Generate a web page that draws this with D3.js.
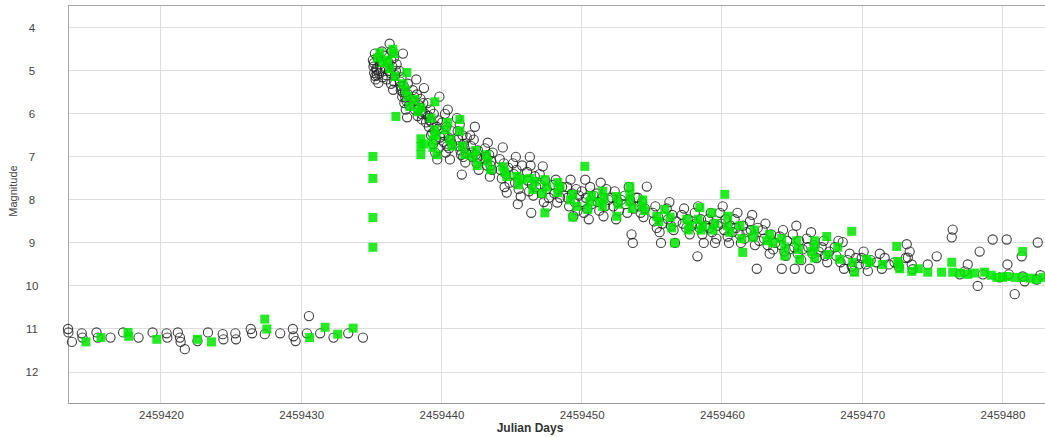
<!DOCTYPE html>
<html>
<head>
<meta charset="utf-8">
<script src="https://cdn.jsdelivr.net/npm/d3@7"></script>
<style>
  html, body { margin: 0; padding: 0; background: #fff; }
  svg { display: block; font-family: "Liberation Sans", Arial, sans-serif; }
</style>
</head>
<body>
<svg id="chart" width="1045" height="437"></svg>
<script>
// ---- DATA (days are JD - 2459400) ----
const JD0 = 2459400;
const xTicks = [2459420, 2459430, 2459440, 2459450, 2459460, 2459470, 2459480];
const yTicks = [4, 5, 6, 7, 8, 9, 10, 11, 12];

// Visual estimates (open circles): [day, magnitude]
const visualObs = [
  [13.37,11.0],[13.4,11.08],[13.65,11.3],[14.35,11.1],[14.4,11.2],[15.4,11.08],[15.5,11.2],[16.4,11.2],
  [17.3,11.08],[18.4,11.2],[19.4,11.08],[20.4,11.1],[20.45,11.2],[21.2,11.08],[21.35,11.2],[21.4,11.3],
  [21.7,11.47],[22.6,11.28],[23.35,11.08],[24.4,11.12],[24.45,11.24],[25.3,11.1],[25.35,11.24],[26.4,11.0],
  [26.5,11.1],[27.4,11.12],[28.5,11.1],[29.4,11.0],[29.45,11.17],[29.6,11.28],[30.4,11.1],[30.55,10.7],
  [31.35,11.1],[32.3,11.2],[33.35,11.1],[34.4,11.2],
  [35.11,4.75],[35.15,4.9],[35.2,5.05],[35.25,4.6],[35.3,5.2],[35.35,4.95],[35.4,5.1],[35.45,4.7],[35.5,5.28],[35.6,4.85],[35.65,5.0],[35.75,4.55],[35.8,5.15],
  [35.18,4.82],[35.28,5.12],[35.38,4.98],[35.55,5.06],[35.7,4.78],
  [35.95,4.65],[36.0,4.95],[36.1,5.2],[36.2,4.8],[36.3,4.37],[36.35,5.05],[36.4,5.3],[36.45,4.55],[36.5,4.9],[36.55,5.44],[36.6,4.7],[36.7,5.1],[36.8,4.85],[37.25,4.6],
  [36.05,5.1],[36.25,5.0],[36.42,4.75],[36.62,5.25],[36.75,5.0],
  [37.0,5.0],[37.05,5.25],[37.1,5.45],[37.15,5.15],[37.2,5.6],[37.3,5.35],[37.35,5.75],[37.4,5.5],[37.45,5.9],[37.5,5.7],[37.55,6.08],[37.6,5.3],[37.7,5.8],
  [37.08,5.35],[37.25,5.5],[37.42,5.62],[37.62,5.55],
  [37.95,5.45],[38.0,5.7],[38.1,5.9],[38.2,5.2],[38.25,5.55],[38.3,6.05],[38.4,5.8],[38.5,5.65],[38.6,6.13],[38.65,5.95],[38.75,5.4],[38.85,6.0],
  [38.05,5.6],[38.35,5.9],[38.55,6.0],[38.7,5.75],[38.9,6.2],
  [39.0,5.75],[39.05,6.05],[39.1,6.3],[39.2,5.9],[39.25,6.5],[39.3,6.2],[39.4,6.7],[39.45,6.0],[39.5,6.4],[39.55,6.9],[39.6,6.6],[39.7,7.06],[39.75,6.15],[39.8,6.8],[39.85,5.6],
  [39.15,6.15],[39.35,6.45],[39.65,6.3],[39.9,6.55],
  [40.05,6.2],[40.1,6.45],[40.15,6.65],[40.25,6.0],[40.3,6.9],[40.35,6.3],[40.45,5.9],[40.5,6.55],[40.55,6.8],[40.6,7.06],[40.7,6.4],[40.75,6.7],
  [40.2,6.5],[40.4,6.75],[40.65,6.6],
  [41.1,6.1],[41.15,6.4],[41.2,6.6],[41.3,6.25],[41.35,6.85],[41.45,7.41],[41.5,6.5],[41.55,7.0],[41.6,6.7],[41.7,7.13],[41.75,6.9],[41.8,6.55],
  [41.25,6.75],[41.4,6.95],[41.65,6.8],
  [42.05,6.5],[42.1,6.75],[42.2,7.0],[42.3,6.6],[42.38,6.3],[42.45,6.95],[42.5,7.15],[42.6,6.85],[42.65,7.3],[42.75,7.05],
  [42.15,6.9],[42.55,7.0],
  [43.1,6.8],[43.15,7.05],[43.25,7.2],[43.3,6.67],[43.4,6.95],[43.45,7.46],[43.55,7.1],[43.6,7.3],[43.65,6.9],
  [43.2,7.0],[43.5,7.2],
  [44.15,7.05],[44.2,7.3],[44.3,7.5],[44.37,6.78],[44.45,7.15],[44.5,7.7],[44.6,7.4],[44.65,7.83],[44.75,7.25],[44.85,7.6],
  [45.1,7.15],[45.15,7.4],[45.25,7.6],[45.3,7.0],[45.35,7.3],[45.44,8.1],[45.5,7.75],[45.55,7.5],[45.65,7.92],[45.75,7.2],
  [46.1,7.35],[46.15,7.55],[46.25,7.8],[46.3,7.0],[46.35,7.2],[46.4,8.3],[46.45,7.65],[46.55,7.9],[46.65,7.45],[46.75,7.7],
  [47.0,7.4],[47.05,7.65],[47.15,7.85],[47.22,7.22],[47.3,8.05],[47.4,7.55],[47.5,7.75],[47.55,8.15],[47.65,7.95],
  [47.95,7.65],[48.05,7.85],[48.15,7.53],[48.25,8.06],[48.35,7.75],[48.45,7.95],[48.6,7.7],
  [48.95,7.7],[49.0,7.95],[49.1,8.15],[49.2,7.53],[49.3,7.85],[49.4,8.38],[49.5,8.05],[49.6,7.75],[49.7,8.25],[49.8,7.9],
  [50.0,7.8],[50.05,8.05],[50.15,8.3],[50.25,7.53],[50.3,7.95],[50.4,8.2],[50.5,8.45],[50.6,7.7],[50.7,8.1],[50.85,7.9],
  [51.07,7.85],[51.15,8.05],[51.25,8.25],[51.35,7.6],[51.45,7.95],[51.55,8.38],[51.65,8.15],[51.75,7.75],[51.9,8.0],
  [52.15,7.95],[52.25,8.15],[52.35,7.8],[52.45,8.45],[52.55,8.05],[52.65,8.25],[52.8,8.0],
  [53.07,7.9],[53.15,8.1],[53.25,8.3],[53.35,7.7],[53.45,8.0],[53.55,8.8],[53.64,9.0],[53.7,8.2],[53.85,7.95],
  [54.0,7.95],[54.1,8.15],[54.2,8.3],[54.3,8.05],[54.4,8.4],[54.5,8.2],[54.64,7.69],
  [55.07,8.3],[55.15,8.5],[55.25,8.15],[55.35,8.65],[55.45,8.4],[55.55,8.75],[55.65,9.0],[55.75,8.55],
  [56.06,8.2],[56.15,8.45],[56.25,8.05],[56.35,8.6],[56.45,8.35],[56.55,8.7],[56.65,9.0],[56.75,8.5],
  [57.13,8.35],[57.2,8.55],[57.3,8.2],[57.45,8.65],[57.55,8.45],[57.7,8.8],[57.85,8.6],
  [58.06,8.3],[58.15,8.55],[58.25,9.31],[58.3,8.15],[58.4,8.65],[58.5,8.45],[58.6,8.8],[58.7,9.0],[58.85,8.6],
  [59.0,8.45],[59.1,8.65],[59.2,8.3],[59.3,8.75],[59.4,8.55],[59.5,9.0],[59.6,8.9],[59.7,8.6],
  [59.85,8.3],[59.95,8.55],[60.05,8.15],[60.15,8.7],[60.25,8.45],[60.4,8.85],[60.5,9.0],[60.6,8.6],[60.75,8.75],
  [60.9,8.45],[61.0,8.65],[61.1,8.3],[61.25,8.8],[61.35,9.0],[61.5,8.6],[61.6,8.9],[61.75,8.75],
  [61.98,8.5],[62.05,8.7],[62.15,8.35],[62.25,8.85],[62.35,9.05],[62.48,9.6],[62.55,8.65],[62.65,8.95],
  [62.9,8.7],[63.0,8.9],[63.1,8.55],[63.25,9.05],[63.4,9.25],[63.5,8.8],[63.65,9.15],[63.8,9.0],
  [64.1,8.85],[64.2,9.05],[64.26,9.6],[64.35,8.7],[64.45,9.2],[64.55,9.3],[64.65,8.95],[64.8,9.15],
  [65.05,8.8],[65.15,9.1],[65.19,9.6],[65.3,8.6],[65.4,9.25],[65.5,8.95],[65.65,9.4],[65.75,9.15],
  [66.05,8.9],[66.15,9.1],[66.26,9.6],[66.35,8.75],[66.45,9.25],[66.6,9.05],[66.75,9.35],[66.9,9.2],
  [67.11,9.1],[67.25,8.95],[67.35,9.3],[67.5,9.45],[67.65,9.2],
  [68.04,9.1],[68.15,9.3],[68.3,8.95],[68.45,9.45],[68.61,8.98],[68.7,9.6],
  [68.96,9.4],[69.1,9.25],[69.25,9.55],[69.4,9.65],[69.55,9.35],[69.75,9.5],
  [69.96,9.35],[70.1,9.2],[70.25,9.5],[70.4,9.65],[70.6,9.4],
  [71.03,9.45],[71.25,9.25],[71.4,9.6],[71.6,9.35],[71.9,9.5],
  [72.3,9.45],[72.6,9.55],[73.1,9.35],
  [73.17,9.03],[73.38,9.2],[73.25,9.34],[73.53,9.5],[73.6,9.61],[74.67,9.5],[75.31,9.31],[76.38,8.87],
  [76.45,8.69],[77.3,9.66],[76.95,9.73],[77.52,9.5],[78.37,9.2],[78.23,10.0],[78.6,9.73],[79.3,8.92],
  [79.8,9.8],[80.3,8.92],[80.35,9.5],[80.45,9.73],[80.87,10.19],[81.37,9.31],[81.44,9.78],[81.58,9.89],
  [82.44,9.85],[82.51,8.99],[82.7,9.75]
];

// V-band photometry (green squares): [day, magnitude]
const vBandObs = [
  [14.65,11.3],[15.72,11.2],[17.65,11.08],[17.7,11.17],[19.7,11.24],[22.6,11.24],[23.6,11.3],[27.4,10.77],
  [27.55,11.0],[30.6,11.2],[31.7,10.96],[32.6,11.12],[33.7,10.98],
  [35.11,6.99],[35.11,7.5],[35.11,8.41],[35.11,9.1],
  [35.61,4.58],[35.82,4.81],[35.45,4.7],[36.18,4.75],[36.32,4.95],[36.53,4.5],[36.68,5.13],[36.75,6.06],[36.6,4.6],
  [37.53,5.04],[37.6,5.6],[37.75,5.83],[37.25,5.3],[37.45,5.45],
  [38.53,5.86],[38.53,6.58],[38.53,6.76],[38.53,6.95],[38.74,6.7],[38.1,5.67],[38.3,5.95],
  [39.53,5.72],[39.53,6.37],[39.39,6.6],[39.39,6.78],[39.67,6.95],[39.6,6.5],[39.25,6.1],
  [40.6,6.6],[40.74,6.75],[40.31,6.37],[40.45,6.2],
  [41.31,6.13],[41.31,6.4],[41.67,6.95],[41.5,6.75],
  [42.3,7.0],[42.55,7.2],[42.45,6.85],
  [43.3,7.1],[43.5,7.3],[43.2,6.95],
  [44.37,7.23],[44.66,7.46],[44.5,7.35],
  [45.37,7.45],[45.73,7.53],[45.5,7.65],
  [46.66,7.57],[46.51,7.76],[46.3,7.5],
  [47.37,7.53],[47.37,8.3],[47.5,7.7],[47.2,7.85],
  [48.29,7.6],[48.29,7.83],[48.45,7.7],
  [49.36,8.4],[49.36,7.87],[49.65,8.15],[49.2,8.0],
  [50.22,7.22],[50.58,8.04],[50.43,8.22],[50.7,7.9],
  [51.5,7.8],[51.5,8.15],[51.6,7.95],[51.3,8.05],
  [52.5,7.92],[52.5,8.38],[52.6,8.1],
  [53.43,7.69],[53.43,7.87],[53.43,8.04],[53.6,8.2],
  [54.35,8.15],[54.35,8.0],[54.5,8.25],
  [55.35,8.38],[55.92,8.22],[55.5,8.5],
  [56.42,8.65],[56.63,9.0],[56.3,8.4],
  [57.49,8.45],[57.7,8.6],[57.6,8.7],
  [58.42,8.18],[58.63,8.6],[58.5,8.7],[58.3,8.45],
  [59.27,8.3],[59.34,8.7],[59.5,8.55],
  [60.2,7.87],[60.41,8.38],[60.55,8.75],[60.4,8.6],
  [61.27,8.6],[61.48,9.22],[61.41,8.9],
  [62.19,8.87],[62.3,8.7],
  [63.62,9.0],[63.4,8.8],[63.2,8.95],
  [64.26,8.9],[64.48,9.3],[64.48,9.1],
  [65.33,8.95],[65.54,9.38],[65.45,9.15],
  [66.61,8.95],[66.61,9.1],[66.61,9.35],[66.4,9.2],
  [67.47,8.85],[67.54,9.27],
  [68.25,9.1],[68.39,9.38],
  [69.25,8.73],[69.32,9.45],[69.46,9.68],
  [70.32,9.38],[70.53,9.45],
  [71.46,9.5],
  [72.46,9.08],[72.53,9.43],[72.67,9.6],[72.6,9.5],
  [73.53,9.66],[74.0,9.6],[74.67,9.68],[75.66,9.68],[76.38,9.45],[76.45,9.68],[77.0,9.7],[77.52,9.73],
  [78.0,9.7],[78.73,9.68],[79.2,9.75],[79.59,9.8],[80.0,9.8],[80.3,9.78],[80.9,9.8],[81.44,9.2],
  [81.5,9.8],[82.0,9.82],[82.44,9.85],[82.9,9.8]
];

// ---- CHART ----
const plot = { left: 68, top: 5, right: 1045, bottom: 403 };
const svg = d3.select("#chart");

const x = d3.scaleLinear().domain([2459413.37, 2459483.03]).range([plot.left, plot.right]);
const y = d3.scaleLinear().domain([3.47, 12.72]).range([plot.top, plot.bottom]);

// grid
const grid = svg.append("g");
grid.selectAll("line.gx").data(xTicks).join("line")
  .attr("x1", d => x(d)).attr("x2", d => x(d))
  .attr("y1", plot.top).attr("y2", plot.bottom)
  .attr("stroke", "#dedede").attr("stroke-width", 1).attr("shape-rendering", "crispEdges");
grid.selectAll("line.gy").data(yTicks).join("line")
  .attr("x1", plot.left).attr("x2", plot.right)
  .attr("y1", d => y(d)).attr("y2", d => y(d))
  .attr("stroke", "#dedede").attr("stroke-width", 1).attr("shape-rendering", "crispEdges");

// frame
svg.append("rect")
  .attr("x", plot.left + 0.5).attr("y", plot.top + 0.5)
  .attr("width", plot.right - plot.left + 10).attr("height", plot.bottom - plot.top)
  .attr("fill", "none").attr("stroke", "#a8a8a8").attr("stroke-width", 1);

// axes
const xAxis = d3.axisBottom(x).tickValues(xTicks).tickFormat(d3.format("d")).tickSize(0).tickPadding(8);
svg.append("g").attr("transform", `translate(0,${plot.bottom})`).call(xAxis)
  .call(g => g.select(".domain").attr("stroke", "#999"))
  .call(g => g.selectAll("text").attr("fill", "#444").attr("font-size", 11.5)
    .attr("font-family", "'Liberation Sans', Arial, sans-serif"));

const yAxis = d3.axisLeft(y).tickValues(yTicks).tickSize(0).tickPadding(0);
svg.append("g").attr("transform", `translate(32,0)`).call(yAxis)
  .call(g => g.select(".domain").remove())
  .call(g => g.selectAll("text").attr("fill", "#444").attr("font-size", 11.5)
    .attr("text-anchor", "middle").attr("dx", 0)
    .attr("font-family", "'Liberation Sans', Arial, sans-serif"));

// axis titles
svg.append("text").attr("x", 530).attr("y", 432).attr("text-anchor", "middle")
  .attr("font-size", 12).attr("font-weight", "bold").attr("fill", "#333").text("Julian Days");
svg.append("text").attr("transform", "translate(17,191) rotate(-90)").attr("text-anchor", "middle")
  .attr("font-size", 11).attr("fill", "#444").text("Magnitude");

// points
svg.append("g").selectAll("circle").data(visualObs).join("circle")
  .attr("cx", d => x(JD0 + d[0])).attr("cy", d => y(d[1])).attr("r", 4.6)
  .attr("fill", "none").attr("stroke", "#222").attr("stroke-opacity", 0.85).attr("stroke-width", 1.1);

const s = 9;
svg.append("g").selectAll("rect").data(vBandObs).join("rect")
  .attr("x", d => x(JD0 + d[0]) - s / 2).attr("y", d => y(d[1]) - s / 2)
  .attr("width", s).attr("height", s)
  .attr("fill", "#00e600").attr("fill-opacity", 0.85);
</script>
</body>
</html>
